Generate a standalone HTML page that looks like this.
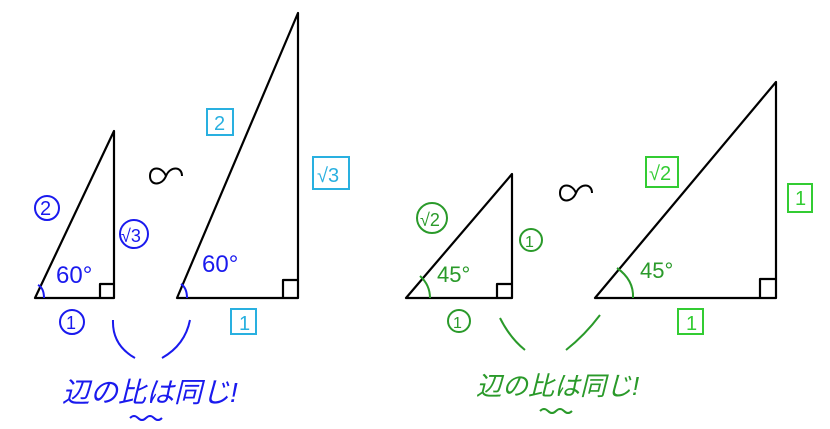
<!DOCTYPE html>
<html><head><meta charset="utf-8"><style>
html,body{margin:0;padding:0;background:#fff}
svg{display:block}
text{font-family:"Liberation Sans","Noto Sans CJK JP",sans-serif}
</style></head><body>
<svg width="830" height="429" viewBox="0 0 830 429" xmlns="http://www.w3.org/2000/svg">
<g fill="none" stroke="#000" stroke-width="2.2" stroke-linejoin="round">
<polygon points="35,298 114,298 114,131"/>
<polyline points="100,298 100,284 114,284"/>
<polygon points="177,298 298,298 298,13"/>
<polyline points="283,298 283,280 298,280"/>
<polygon points="406,298 512,298 512,174"/>
<polyline points="497,298 497,284 512,284"/>
<polygon points="595,298 776,298 776,82"/>
<polyline points="760,298 760,279 776,279"/>
<path d="M166,176 C162,166 150,166 150,176 C150,186 162,186 166,176 C170,166 182,166 182,176" stroke-width="2"/>
<path d="M576,193 C572,183 560,183 560,193 C560,203 572,203 576,193 C580,183 592,183 592,193" stroke-width="2"/>
</g>
<g fill="none" stroke="#1a1aee" stroke-width="2">
<path d="M44,298 Q44,288 38,285"/>
<path d="M187,298 Q187,288 181,284"/>
<circle cx="47" cy="208" r="12"/>
<circle cx="134" cy="234" r="14"/>
<circle cx="72" cy="322" r="12"/>
<path d="M113,320 Q112,345 135,358"/>
<path d="M190,320 Q185,345 162,358"/>
<path d="M130,418 q4,-4 8,0 q4,4 8,0 q4,-4 8,0 q4,4 8,0"/>
</g>
<g fill="#1a1aee" font-size="20">
<text x="40" y="215">2</text>
<text x="121" y="242" font-size="18">√3</text>
<text x="66" y="329" font-size="18">1</text>
<text x="56" y="283" font-size="24">60°</text>
<text x="202" y="272" font-size="24">60°</text>
<text x="62" y="402" font-size="28" font-style="italic">辺の比は同じ!</text>
</g>
<g fill="none" stroke="#29b0e0" stroke-width="2">
<rect x="207" y="109" width="26" height="26"/>
<rect x="313" y="157" width="36" height="32"/>
<rect x="231" y="309" width="25" height="25"/>
</g>
<g fill="#29b0e0" font-size="20">
<text x="214" y="130">2</text>
<text x="317" y="182">√3</text>
<text x="239" y="330">1</text>
</g>
<g fill="none" stroke="#2a9a2a" stroke-width="2">
<path d="M430,298 Q430,285 420,276"/>
<path d="M633,298 Q634,280 617,268"/>
<circle cx="432" cy="218" r="15"/>
<circle cx="531" cy="240" r="11"/>
<circle cx="459" cy="321" r="11"/>
<path d="M500,318 Q510,338 525,350"/>
<path d="M600,315 Q585,335 566,350"/>
<path d="M540,411 q4,-4 8,0 q4,4 8,0 q4,-4 8,0 q4,4 8,0"/>
</g>
<g fill="#2a9a2a" font-size="20">
<text x="420" y="226" font-size="18">√2</text>
<text x="525" y="247" font-size="16">1</text>
<text x="453" y="328" font-size="16">1</text>
<text x="437" y="282" font-size="22">45°</text>
<text x="640" y="278" font-size="22">45°</text>
<text x="476" y="395" font-size="26" font-style="italic">辺の比は同じ!</text>
</g>
<g fill="none" stroke="#33cc33" stroke-width="2">
<rect x="646" y="157" width="32" height="30"/>
<rect x="788" y="184" width="24" height="28"/>
<rect x="678" y="309" width="25" height="25"/>
</g>
<g fill="#33cc33" font-size="20">
<text x="649" y="180">√2</text>
<text x="795" y="205">1</text>
<text x="686" y="330">1</text>
</g>
</svg>
</body></html>
